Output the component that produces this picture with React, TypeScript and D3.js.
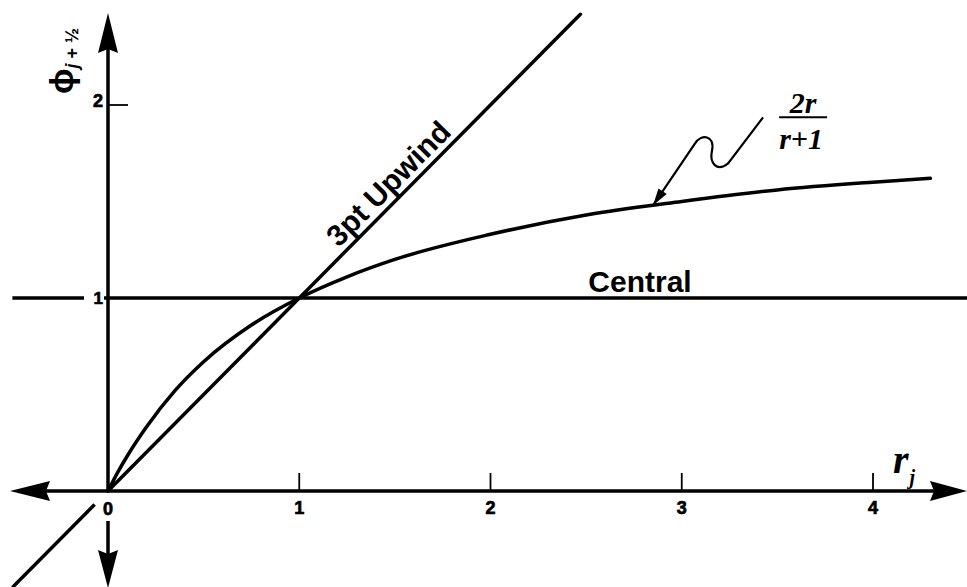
import React from "react";
import * as d3 from "d3";

// ---- data ----
const xTickValues = [1, 2, 3, 4];
const xTickLabels = ["1", "2", "3", "4"];
const yTickValues = [2];
const yTickLabels = ["2"];
const centralValue = 1;
const centralRange = [-0.5, 4.5];
const upwindRange = [-0.5, 2.47];
const curveR = [0, 0.05, 0.1, 0.2, 0.35, 0.5, 0.75, 1, 1.25, 1.5, 2, 2.5, 3, 3.5, 4, 4.3];
const curvePhi = [0, 0.095, 0.18, 0.33, 0.52, 0.67, 0.86, 1, 1.11, 1.2, 1.33, 1.43, 1.5, 1.56, 1.6, 1.62];
const annotationR = 2.85;
const annotationPhi = 1.48;

const W = 967;
const H = 587;

export default function App() {
  const x = d3.scaleLinear().domain([0, 4]).range([108, 873]);
  const y = d3.scaleLinear().domain([0, 2]).range([491, 105]);

  const sans = "'Liberation Sans', Arial, Helvetica, sans-serif";
  const serif = "'Liberation Serif', 'Times New Roman', serif";
  const sw = 3.5;

  const curvePts = curveR.map((r, i) => [r, curvePhi[i]] as [number, number]);
  const curvePath = d3
    .line<[number, number]>()
    .x((d) => x(d[0]))
    .y((d) => y(d[1]))
    .curve(d3.curveMonotoneX)(curvePts) as string;

  const lineGen = d3
    .line<[number, number]>()
    .x((d) => x(d[0]))
    .y((d) => y(d[1]));

  const upwindLower = lineGen([
    [upwindRange[0], upwindRange[0]],
    [-0.07, -0.07],
  ]) as string;
  const upwindUpper = lineGen([
    [0, 0],
    [upwindRange[1], upwindRange[1]],
  ]) as string;

  const x0 = x(0);
  const y0 = y(0);

  // arrowheads
  const upArrow = `M${x0},13 L${x0 + 10},53 L${x0},49 L${x0 - 10},53 Z`;
  const downArrow = `M${x0},588 L${x0 + 10},550 L${x0},554 L${x0 - 10},550 Z`;
  const leftArrow = `M10,${y0} L50,${y0 - 10} L46,${y0} L50,${y0 + 10} Z`;
  const rightArrow = `M967,${y0} L930,${y0 - 10} L934,${y0} L930,${y0 + 10} Z`;

  // text along upwind line
  const tr = 1.53;
  const tx = x(tr);
  const ty = y(tr);
  const ang = (Math.atan2(y(tr + 1) - y(tr), x(tr + 1) - x(tr)) * 180) / Math.PI;
  const off = 7;
  const nrad = ((ang - 90) * Math.PI) / 180;
  const ux = tx + off * Math.cos(nrad);
  const uy = ty + off * Math.sin(nrad);

  // annotation
  const ax = x(annotationR);
  const ay = y(annotationPhi);
  const squiggle = `M${ax},${ay} L${ax + 42},${ay - 62} C${ax + 48},${ay - 72} ${ax + 62},${ay - 70} ${ax + 59},${ay - 55} C${ax + 56},${ay - 42} ${ax + 64},${ay - 33} ${ax + 75},${ay - 42} L${ax + 110},${ay - 88}`;
  const dirx = 42;
  const diry = -62;
  const len = Math.hypot(dirx, diry);
  const dx = dirx / len;
  const dy = diry / len;
  const headL = 17;
  const headW = 5;
  const hb = [ax + dx * headL, ay + dy * headL];
  const headPath = `M${ax},${ay} L${hb[0] - dy * headW},${hb[1] + dx * headW} L${hb[0] + dy * headW},${hb[1] - dx * headW} Z`;

  const fracX = ax + 150;
  const tickStroke = { stroke: "#000", strokeWidth: 0.7 };

  return (
    <svg
      width={W}
      height={H}
      style={{ position: "absolute", left: 0, top: 0, background: "#fff" }}
    >
      <rect x={0} y={0} width={W} height={H} fill="#fff" />

      {/* axes */}
      <line x1={x0} y1={45} x2={x0} y2={y0} stroke="#000" strokeWidth={sw} />
      <line x1={x0} y1={521} x2={x0} y2={556} stroke="#000" strokeWidth={sw} />
      <line x1={40} y1={y0} x2={940} y2={y0} stroke="#000" strokeWidth={sw} />
      <path d={upArrow} fill="#000" />
      <path d={downArrow} fill="#000" />
      <path d={leftArrow} fill="#000" />
      <path d={rightArrow} fill="#000" />

      {/* x ticks */}
      {xTickValues.map((v, i) => (
        <g key={"xt" + v}>
          <line x1={x(v)} y1={y0} x2={x(v)} y2={y0 - 18} stroke="#000" strokeWidth={1.8} />
          <text
            x={x(v)}
            y={y0 + 23}
            textAnchor="middle"
            fontFamily={sans}
            fontWeight="bold"
            fontSize={18}
            {...tickStroke}
          >
            {xTickLabels[i]}
          </text>
        </g>
      ))}
      <text x={x0} y={y0 + 24} textAnchor="middle" fontFamily={sans} fontWeight="bold" fontSize={18} {...tickStroke}>
        0
      </text>

      {/* y ticks */}
      {yTickValues.map((v, i) => (
        <g key={"yt" + v}>
          <line x1={x0} y1={y(v)} x2={x0 + 20} y2={y(v)} stroke="#000" strokeWidth={1.8} />
          <text
            x={x0 - 5}
            y={y(v) + 2}
            textAnchor="end"
            fontFamily={sans}
            fontWeight="bold"
            fontSize={18}
            {...tickStroke}
          >
            {yTickLabels[i]}
          </text>
        </g>
      ))}

      {/* Central line with gap for label 1 */}
      <line
        x1={x(centralRange[0])}
        y1={y(centralValue)}
        x2={x0 - 24}
        y2={y(centralValue)}
        stroke="#000"
        strokeWidth={sw}
      />
      <line
        x1={x0 - 4}
        y1={y(centralValue)}
        x2={x(centralRange[1])}
        y2={y(centralValue)}
        stroke="#000"
        strokeWidth={sw}
      />
      <text
        x={x0 - 5}
        y={y(centralValue) + 6}
        textAnchor="end"
        fontFamily={sans}
        fontWeight="bold"
        fontSize={17}
        {...tickStroke}
      >
        1
      </text>

      {/* 3pt Upwind line */}
      <path d={upwindLower} stroke="#000" strokeWidth={sw} fill="none" />
      <path d={upwindUpper} stroke="#000" strokeWidth={sw} fill="none" strokeLinecap="round" />

      {/* 2r/(r+1) curve */}
      <path d={curvePath} stroke="#000" strokeWidth={sw} fill="none" strokeLinecap="round" />

      {/* labels */}
      <text
        transform={`translate(${ux},${uy}) rotate(${ang})`}
        textAnchor="middle"
        fontFamily={sans}
        fontWeight="bold"
        fontSize={30}
      >
        3pt Upwind
      </text>
      <text
        x={640}
        y={y(centralValue) - 6}
        textAnchor="middle"
        fontFamily={sans}
        fontWeight="bold"
        fontSize={30}
      >
        Central
      </text>

      {/* annotation */}
      <path d={squiggle} stroke="#000" strokeWidth={2.2} fill="none" />
      <path d={headPath} fill="#000" />
      <text
        x={fracX}
        y={ay - 92}
        textAnchor="middle"
        fontFamily={serif}
        fontWeight="bold"
        fontStyle="italic"
        fontSize={30}
      >
        2r
      </text>
      <line x1={fracX - 24} y1={ay - 88} x2={fracX + 24} y2={ay - 88} stroke="#000" strokeWidth={2} />
      <text
        x={fracX - 2}
        y={ay - 56}
        textAnchor="middle"
        fontFamily={serif}
        fontWeight="bold"
        fontStyle="italic"
        fontSize={30}
      >
        r+1
      </text>

      {/* axis titles */}
      <text transform="translate(73,94) rotate(-90)" fontFamily={sans} fontWeight="bold">
        <tspan fontSize={34}>ϕ</tspan>
        <tspan fontSize={18} dy={5} fontStyle="italic">j</tspan>
        <tspan fontSize={18}> + ½</tspan>
      </text>
      <text x={893} y={473} fontFamily={serif} fontWeight="bold" fontStyle="italic" fontSize={40}>
        r
        <tspan fontSize={20} dy={11} dx={1}>j</tspan>
      </text>
    </svg>
  );
}
